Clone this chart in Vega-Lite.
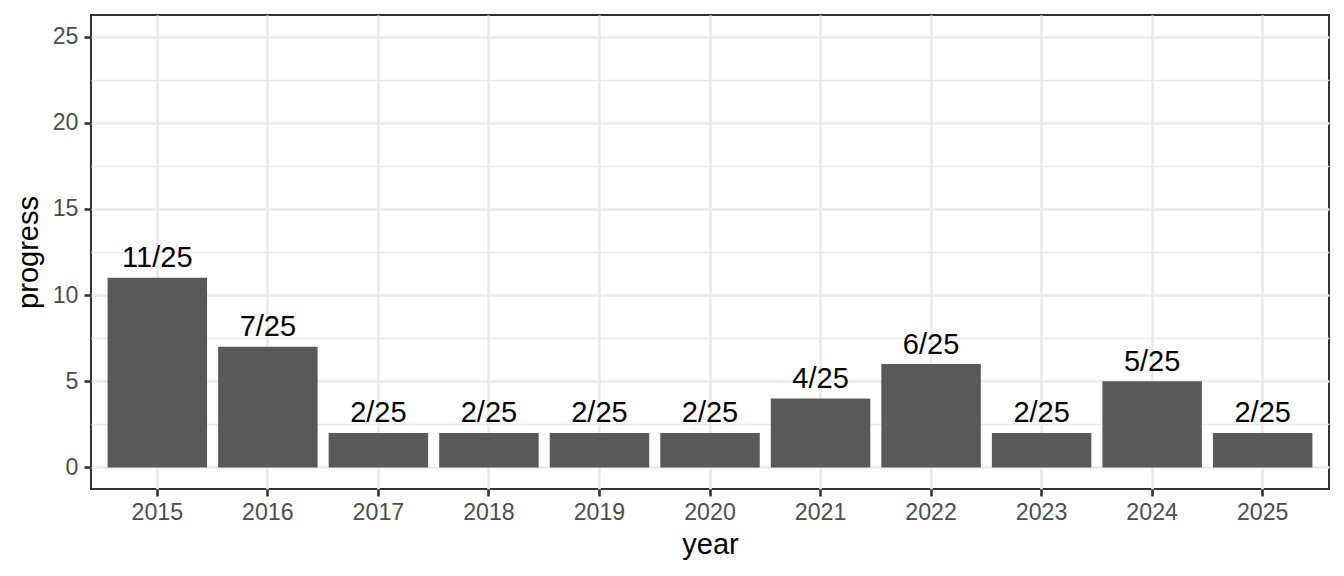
{
  "$schema": "https://vega.github.io/schema/vega-lite/v6.json",
  "width": 1238,
  "height": 474,
  "autosize": {"type": "none"},
  "padding": {"left": 91, "top": 15, "right": 15, "bottom": 87},
  "background": "white",
  "config": {
    "font": "Liberation Sans",
    "view": {"stroke": "#333333", "strokeWidth": 2},
    "axis": {
      "gridColor": "#EBEBEB",
      "gridWidth": 2.6,
      "tickColor": "#333333",
      "tickWidth": 2.6,
      "tickSize": 7,
      "domain": false,
      "labelColor": "#4D4D4D",
      "labelFontSize": 23.2,
      "labelFont": "Liberation Sans",
      "titleFont": "Liberation Sans",
      "titleFontSize": 29,
      "titleFontWeight": "normal",
      "titleColor": "#000000"
    }
  },
  "data": {
    "values": [
      {"year": "2015", "progress": 11, "label": "11/25"},
      {"year": "2016", "progress": 7, "label": "7/25"},
      {"year": "2017", "progress": 2, "label": "2/25"},
      {"year": "2018", "progress": 2, "label": "2/25"},
      {"year": "2019", "progress": 2, "label": "2/25"},
      {"year": "2020", "progress": 2, "label": "2/25"},
      {"year": "2021", "progress": 4, "label": "4/25"},
      {"year": "2022", "progress": 6, "label": "6/25"},
      {"year": "2023", "progress": 2, "label": "2/25"},
      {"year": "2024", "progress": 5, "label": "5/25"},
      {"year": "2025", "progress": 2, "label": "2/25"}
    ]
  },
  "encoding": {
    "x": {
      "field": "year",
      "type": "nominal",
      "scale": {"type": "band", "paddingInner": 0.1, "paddingOuter": 0.15},
      "axis": {
        "title": "year",
        "labelAngle": 0,
        "grid": true,
        "bandPosition": 0.5,
        "labelPadding": 5,
        "titlePadding": 7
      }
    }
  },
  "layer": [
    {
      "mark": {"type": "bar", "color": "#595959"},
      "encoding": {
        "y": {
          "field": "progress",
          "type": "quantitative",
          "scale": {"domain": [-1.25, 26.25], "nice": false, "zero": false},
          "axis": {
            "title": "progress",
            "values": [0, 5, 10, 15, 20, 25],
            "grid": true,
            "labelPadding": 6,
            "titlePadding": 9
          }
        }
      }
    },
    {
      "mark": {"type": "text", "baseline": "alphabetic", "dy": -10.5, "fontSize": 29, "color": "#000000", "font": "Liberation Sans"},
      "encoding": {
        "y": {
          "field": "progress",
          "type": "quantitative",
          "axis": {
            "orient": "right",
            "title": null,
            "values": [2.5, 7.5, 12.5, 17.5, 22.5],
            "grid": true,
            "gridWidth": 1.3,
            "labels": false,
            "ticks": false
          }
        },
        "text": {"field": "label"}
      }
    }
  ],
  "resolve": {"axis": {"y": "independent"}}
}
